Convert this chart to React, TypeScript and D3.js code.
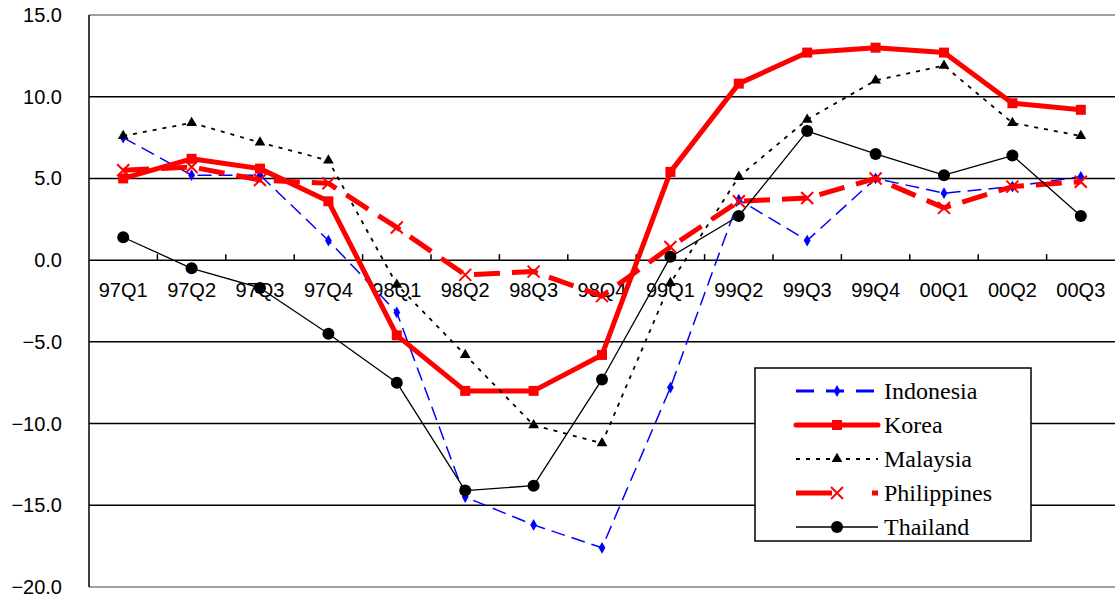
import React, { useEffect, useRef } from 'react';
import * as d3 from 'd3';

const quarters = ['97Q1', '97Q2', '97Q3', '97Q4', '98Q1', '98Q2', '98Q3', '98Q4', '99Q1', '99Q2', '99Q3', '99Q4', '00Q1', '00Q2', '00Q3'];
const indonesia = [7.5, 5.2, 5.2, 1.2, -3.2, -14.5, -16.2, -17.6, -7.8, 3.7, 1.2, 5.0, 4.1, 4.5, 5.1];
const korea = [5.0, 6.2, 5.6, 3.6, -4.6, -8.0, -8.0, -5.8, 5.4, 10.8, 12.7, 13.0, 12.7, 9.6, 9.2];
const malaysia = [7.6, 8.4, 7.2, 6.1, -1.5, -5.8, -10.1, -11.2, -1.4, 5.1, 8.6, 11.0, 11.9, 8.4, 7.6];
const philippines = [5.5, 5.7, 4.9, 4.7, 2.0, -0.9, -0.7, -2.2, 0.8, 3.6, 3.8, 5.0, 3.2, 4.5, 4.8];
const thailand = [1.4, -0.5, -1.7, -4.5, -7.5, -14.1, -13.8, -7.3, 0.2, 2.7, 7.9, 6.5, 5.2, 6.4, 2.7];
const yTicks = [15, 10, 5, 0, -5, -10, -15, -20];

interface Series {
  name: string;
  values: number[];
  color: string;
  width: number;
  dash: string | null;
  marker: 'diamond' | 'square' | 'triangle' | 'x' | 'circle';
}

const series: Series[] = [
  { name: 'Indonesia', values: indonesia, color: '#0000ff', width: 1.5, dash: '14,7', marker: 'diamond' },
  { name: 'Korea', values: korea, color: '#ff0000', width: 5, dash: null, marker: 'square' },
  { name: 'Malaysia', values: malaysia, color: '#000000', width: 1.8, dash: '4,6', marker: 'triangle' },
  { name: 'Philippines', values: philippines, color: '#ff0000', width: 5, dash: '26,12', marker: 'x' },
  { name: 'Thailand', values: thailand, color: '#000000', width: 1.3, dash: null, marker: 'circle' },
];

const sans = "'Liberation Sans', Arial, sans-serif";
const serif = "'Liberation Serif', 'DejaVu Serif', 'Times New Roman', Times, serif";

export default function App() {
  const svgRef = useRef<SVGSVGElement>(null);

  useEffect(() => {
    if (!svgRef.current) return;
    const svg = d3.select(svgRef.current);
    svg.selectAll('*').remove();

    const left = 89, right = 1115, top = 15, bottom = 587;

    const x = d3.scaleBand().domain(quarters).range([left, right]);
    const y = d3.scaleLinear().domain([-20, 15]).range([bottom, top]);

    // gridlines
    svg.append('g')
      .selectAll('line')
      .data(yTicks)
      .join('line')
      .attr('x1', left)
      .attr('x2', right)
      .attr('y1', d => y(d))
      .attr('y2', d => y(d))
      .attr('stroke', d => (d === 15 || d === -20 ? '#808080' : '#000'))
      .attr('stroke-width', 1.5);

    // y axis line
    svg.append('line')
      .attr('x1', left).attr('x2', left)
      .attr('y1', top).attr('y2', bottom)
      .attr('stroke', '#000').attr('stroke-width', 1.5);

    // y labels
    svg.append('g')
      .selectAll('text')
      .data(yTicks)
      .join('text')
      .attr('x', 62)
      .attr('y', d => y(d))
      .attr('dy', '0.35em')
      .attr('text-anchor', 'end')
      .style('font-family', sans)
      .attr('font-size', 20)
      .text(d => d3.format('.1f')(d));

    // category ticks on zero line
    svg.append('g')
      .selectAll('line')
      .data(quarters.slice(1))
      .join('line')
      .attr('x1', d => x(d)!)
      .attr('x2', d => x(d)!)
      .attr('y1', y(0))
      .attr('y2', y(0) - 6)
      .attr('stroke', '#000')
      .attr('stroke-width', 1.5);

    // x labels
    svg.append('g')
      .selectAll('text')
      .data(quarters)
      .join('text')
      .attr('x', d => x(d)! + x.bandwidth() / 2)
      .attr('y', y(0) + 37)
      .attr('text-anchor', 'middle')
      .style('font-family', sans)
      .attr('font-size', 20)
      .text(d => d);

    const cx = (i: number) => x(quarters[i])! + x.bandwidth() / 2;

    const drawMarker = (g: d3.Selection<SVGGElement, unknown, null, undefined>, s: Series, px: number, py: number) => {
      if (s.marker === 'circle') {
        g.append('circle').attr('cx', px).attr('cy', py).attr('r', 6).attr('fill', s.color);
      } else if (s.marker === 'square') {
        g.append('rect').attr('x', px - 5).attr('y', py - 5).attr('width', 10).attr('height', 10).attr('fill', s.color);
      } else if (s.marker === 'triangle') {
        g.append('path').attr('transform', `translate(${px},${py})`)
          .attr('d', d3.symbol(d3.symbolTriangle, 50)()!).attr('fill', s.color);
      } else if (s.marker === 'diamond') {
        g.append('path').attr('transform', `translate(${px},${py})`)
          .attr('d', d3.symbol(d3.symbolDiamond, 40)()!).attr('fill', s.color);
      } else {
        g.append('path').attr('transform', `translate(${px},${py})`)
          .attr('d', 'M-6,-6L6,6M-6,6L6,-6')
          .attr('stroke', s.color).attr('stroke-width', 2).attr('fill', 'none');
      }
    };

    const line = d3.line<number>().x((_, i) => cx(i)).y(d => y(d));

    series.forEach(s => {
      const g = svg.append('g');
      g.append('path')
        .datum(s.values)
        .attr('d', line)
        .attr('fill', 'none')
        .attr('stroke', s.color)
        .attr('stroke-width', s.width)
        .attr('stroke-dasharray', s.dash)
        .attr('stroke-linejoin', 'round');
      s.values.forEach((v, i) => drawMarker(g, s, cx(i), y(v)));
    });

    // legend
    const lg = svg.append('g');
    lg.append('rect')
      .attr('x', 755).attr('y', 368).attr('width', 276).attr('height', 173)
      .attr('fill', '#fff').attr('stroke', '#000').attr('stroke-width', 1.5);
    series.forEach((s, i) => {
      const ly = 391 + i * 34;
      const g = lg.append('g');
      g.append('line')
        .attr('x1', 796).attr('x2', 878).attr('y1', ly).attr('y2', ly)
        .attr('stroke', s.color)
        .attr('stroke-width', s.width === 5 ? 5 : s.marker === 'diamond' ? 3 : s.width)
        .attr('stroke-dasharray', s.marker === 'x' ? '36,40,9' : s.dash === '14,7' ? '18,12' : s.dash)
        .attr('stroke-linecap', s.marker === 'square' ? 'round' : 'butt');
      drawMarker(g, s, 837, ly);
      g.append('text')
        .attr('x', 884).attr('y', ly).attr('dy', '0.35em')
        .style('font-family', serif)
        .attr('font-size', 24)
        .text(s.name);
    });
  }, []);

  return (
    <div style={{ position: 'absolute', left: 0, top: 0 }}>
      <svg ref={svgRef} width={1115} height={600} style={{ display: 'block', background: '#fff' }} />
    </div>
  );
}
